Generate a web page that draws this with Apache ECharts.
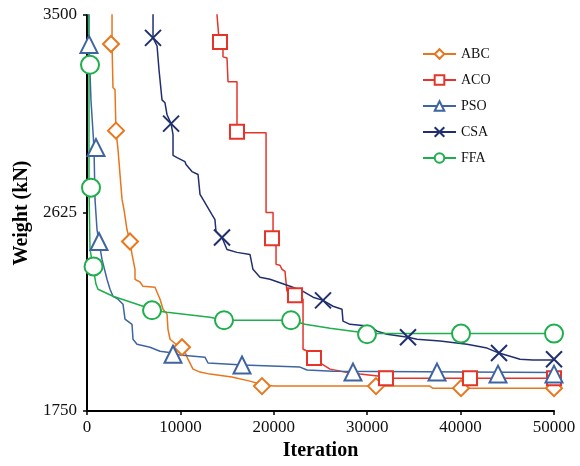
<!DOCTYPE html>
<html>
<head>
<meta charset="utf-8">
<script src="https://cdn.jsdelivr.net/npm/echarts@6/dist/echarts.min.js"></script>
<style>
  html, body { margin: 0; padding: 0; background: #fff; }
  #chart { width: 580px; height: 466px; }
</style>
</head>
<body>
<div id="chart"></div>
<script>
// convergence curves: [iteration, weight kN]
var names = ['ABC', 'ACO', 'PSO', 'CSA', 'FFA'];
var xTicks = [0, 10000, 20000, 30000, 40000, 50000];
var yTicks = [1750, 2625, 3500];

var abcLine = [[2680,3700],[2680,3370],[2780,3180],[3000,3170],[3100,2990],[3320,2905],[3750,2685],[3960,2640],
  [4280,2552],[4600,2500],[4820,2442],[5140,2376],[5140,2332],[5680,2320],[6000,2301],[7280,2297],[7820,2244],
  [8140,2200],[8570,2178],[8670,2111],[8890,2067],[9530,2045],[10280,2032],[10810,1979],[11350,1935],[12100,1922],
  [13170,1913],[15500,1900],[17450,1882],[18850,1865],[20000,1860],[36700,1860],[37000,1851],[50000,1851]];
var acoLine = [[13700,3700],[13920,3500],[14100,3410],[14240,3381],[14560,3346],[14560,3315],[14990,3310],[15100,3205],
  [16060,3205],[16060,2980],[19170,2980],[19170,2627],[19920,2627],[19920,2513],[20240,2477],[20240,2398],[20660,2394],
  [20880,2376],[21200,2367],[21310,2319],[21410,2279],[22000,2275],[22370,2261],[23130,2244],[23130,2023],[23560,2015],
  [24300,1984],[25160,1957],[26020,1935],[27600,1922],[29230,1913],[31370,1904],[32010,1895],[50000,1895]];
var psoLine = [[214,3700],[214,3368],[430,3120],[749,2914],[857,2685],[1071,2552],[1285,2499],[1606,2420],[2141,2332],
  [2463,2288],[2784,2257],[3319,2244],[3855,2222],[4069,2156],[4818,2133],[4925,2067],[5354,2045],[5461,2037],
  [6745,2032],[7816,2014],[9208,2006],[9958,1997],[12630,1988],[12955,1962],[16700,1953],[22806,1944],[23555,1931],
  [26340,1926],[50000,1920]];
var csaLine = [[7070,3700],[7070,3399],[7500,3363],[7710,3258],[8030,3125],[8350,3112],[8570,3059],[9000,3020],
  [9210,2971],[9210,2880],[9640,2870],[10490,2852],[10600,2839],[11240,2808],[11890,2795],[12100,2707],[12420,2685],
  [13380,2618],[13700,2596],[13810,2543],[14450,2517],[14990,2464],[16060,2451],[17450,2442],[17770,2376],[18520,2341],
  [19590,2332],[21740,2301],[23130,2279],[24200,2253],[25270,2239],[26340,2213],[27300,2200],[27410,2147],[28160,2133],
  [29230,2129],[30300,2125],[31050,2103],[32120,2089],[34370,2076],[35330,2067],[37800,2059],[40690,2045],[42830,2028],
  [44110,2006],[45290,1992],[46360,1979],[47750,1975],[50000,1975]];
var ffaLine = [[107,3700],[214,3280],[214,2737],[321,2464],[642,2389],[964,2310],[1178,2288],[2784,2257],[5996,2213],
  [6960,2195],[8566,2186],[13170,2164],[14669,2151],[21842,2151],[23341,2133],[26018,2116],[29230,2098],[29980,2092],
  [50000,2092]];

// sampled marker points drawn on the curves
var abcMarks = [[2570,3372],[3105,2989],[4604,2499],[10172,2032],[18737,1860],[30943,1860],[40044,1851],[50000,1851]];
var acoMarks = [[14240,3381],[16060,2984],[19808,2513],[22270,2261],[24305,1984],[32014,1895],[41008,1895],[50000,1895]];
var psoMarks = [[214,3370],[964,2914],[1285,2499],[9208,2001],[16596,1953],[28481,1922],[37475,1922],[44006,1913],[50000,1913]];
var csaMarks = [[7067,3399],[9000,3020],[14454,2517],[25269,2239],[34369,2076],[44113,2006],[50000,1979]];
var ffaMarks = [[321,3280],[428,2737],[700,2389],[6960,2195],[14669,2151],[21842,2151],[29980,2089],[40044,2092],[50000,2092]];

var colors = ['#e8761c', '#e5342a', '#3f65a1', '#202f70', '#1eae4c'];
var crossPath = 'path://M0,0L10,10M10,0L0,10';
var symbols = ['emptyDiamond', 'emptyRect', 'emptyTriangle', crossPath, 'emptyCircle'];
var sizes = [16, 14, 17, 16, 18];
var lines = [abcLine, acoLine, psoLine, csaLine, ffaLine];
var marks = [abcMarks, acoMarks, psoMarks, csaMarks, ffaMarks];

var serif = 'Liberation Serif';
var series = [];
names.forEach(function(n, i) {
  var isCross = i === 3;
  series.push({
    name: n,
    type: 'line',
    data: lines[i],
    showSymbol: false,
    symbol: symbols[i],
    symbolSize: sizes[i],
    lineStyle: { color: colors[i], width: 1.5 },
    itemStyle: isCross ? { color: colors[i], borderColor: colors[i], borderWidth: 1.5 } : { color: colors[i], borderWidth: 2 },
    z: 2
  });
});
names.forEach(function(n, i) {
  var isCross = i === 3;
  series.push({
    type: 'scatter',
    data: marks[i],
    symbol: symbols[i],
    symbolSize: sizes[i],
    itemStyle: isCross
      ? { color: 'none', borderColor: colors[i], borderWidth: 2, opacity: 1 }
      : { color: colors[i], borderColor: colors[i], borderWidth: 2.2, opacity: 1 },
    z: 3
  });
});

var chart = echarts.init(document.getElementById('chart'));
chart.setOption({
  animation: false,
  backgroundColor: '#fff',
  legend: {
    data: names,
    orient: 'vertical',
    left: 417, top: 42,
    itemWidth: 33, itemHeight: 12, itemGap: 12,
    textStyle: { fontFamily: serif, fontSize: 14, color: '#111' }
  },
  grid: { left: 87, right: 26, top: 15, bottom: 54 },
  xAxis: {
    type: 'value',
    min: xTicks[0], max: xTicks[xTicks.length - 1], interval: 10000,
    name: 'Iteration',
    nameLocation: 'middle', nameGap: 30,
    nameTextStyle: { fontFamily: serif, fontSize: 20, fontWeight: 'bold', color: '#000' },
    axisLine: { lineStyle: { color: '#000', width: 2 } },
    axisTick: { show: true, length: 4, lineStyle: { color: '#000', width: 1.5 } },
    axisLabel: { fontFamily: serif, fontSize: 17, color: '#111', margin: 8, formatter: function(v) { return String(v); } },
    splitLine: { show: false }
  },
  yAxis: {
    type: 'value',
    min: yTicks[0], max: yTicks[yTicks.length - 1], interval: 875,
    name: 'Weight (kN)',
    nameLocation: 'middle', nameGap: 52,
    nameTextStyle: { fontFamily: serif, fontSize: 20, fontWeight: 'bold', color: '#000' },
    axisLine: { show: true, lineStyle: { color: '#000', width: 2 } },
    axisTick: { show: true, length: 4, lineStyle: { color: '#000', width: 1.5 } },
    axisLabel: { fontFamily: serif, fontSize: 17, color: '#111', margin: 10, formatter: function(v) { return String(v); } },
    splitLine: { show: false }
  },
  series: series
});
</script>
</body>
</html>
